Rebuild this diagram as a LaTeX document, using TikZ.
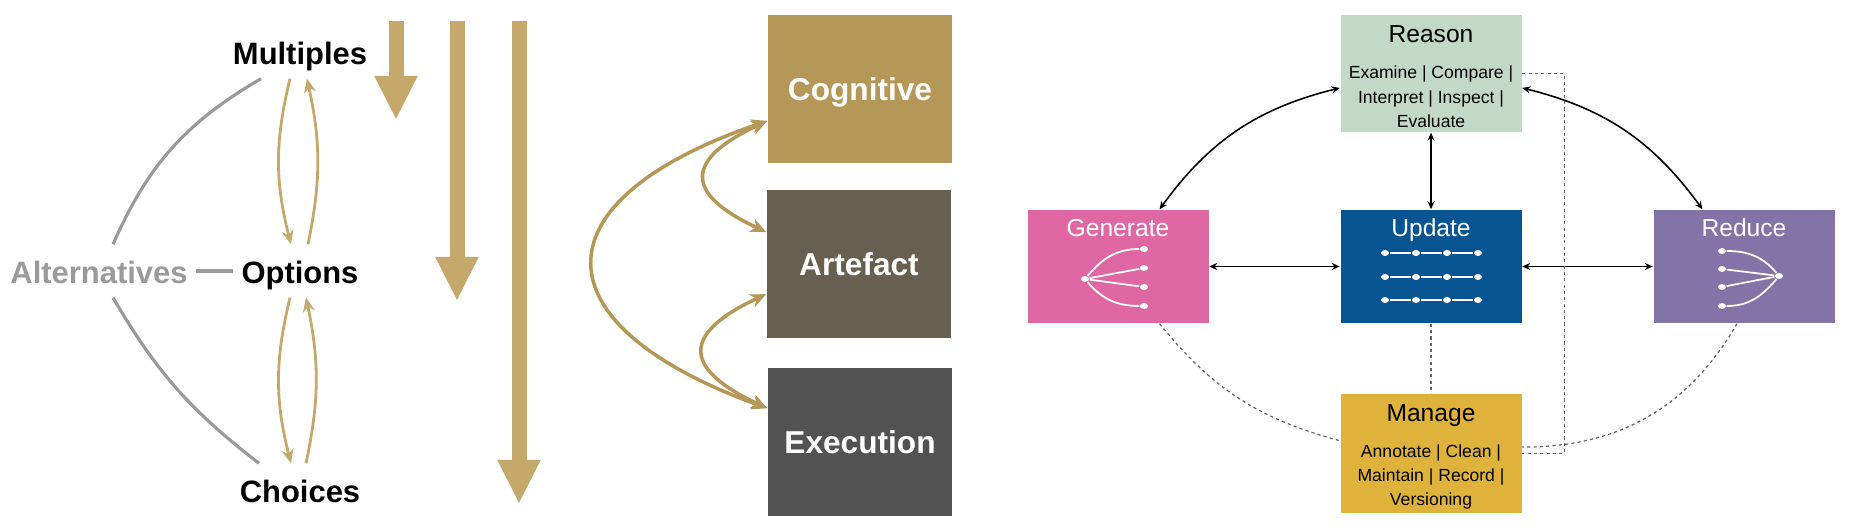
\documentclass[tikz,border=0pt]{standalone}
\usepackage{fontspec}
\setmainfont{Liberation Sans}
\usetikzlibrary{arrows.meta,positioning,shapes.geometric}
\definecolor{dftan}{RGB}{197,169,108}
\definecolor{dfgold}{RGB}{181,152,88}
\definecolor{dfolive}{RGB}{103,95,79}
\definecolor{dfdark}{RGB}{82,82,82}
\definecolor{dfgrey}{RGB}{154,154,154}
\definecolor{dfsage}{RGB}{194,217,200}
\definecolor{dfpink}{RGB}{223,104,164}
\definecolor{dfnavy}{RGB}{6,85,146}
\definecolor{dfpurple}{RGB}{131,115,167}
\definecolor{dfyellow}{RGB}{223,179,59}
\newcommand{\steptext}{\fontsize{5}{6.85}\selectfont}
\newcommand{\stephead}{\fontsize{7}{9}\selectfont\rule{0pt}{6.6pt}}
\tikzstyle{level} = [inner xsep=0.08cm, inner ysep=0pt, minimum height=0.52cm, text height=9pt, text depth=1.9pt, font=\fontsize{8.8}{10}\selectfont\bfseries]
\tikzstyle{facet} = [rectangle, minimum width=1.84cm, minimum height=1.48cm, inner sep=0pt, text height=8.5pt, text depth=1.9pt, text=white, font=\fontsize{9}{11}\selectfont\bfseries]
\tikzstyle{stage} = [rectangle, minimum width=1.81cm, inner sep=0pt, align=center, font=\steptext]
\tikzstyle{stagetitle} = [anchor=north, inner sep=0pt, text=white, font=\fontsize{7}{9}\selectfont]
\tikzstyle{altline} = [line width=0.9pt, color=dfgrey]
\tikzstyle{flow} = [line width=0.8pt, color=dftan, ->, >={Stealth[length=0.14cm,width=0.12cm]}]
\tikzstyle{bigflow} = [line width=0.15cm, color=dftan, -{Triangle[length=0.44cm,width=0.40cm]}]
\tikzstyle{loopflow} = [line width=1pt, color=dfgold, <->, >={Stealth[length=0.16cm,width=0.14cm]}]
\tikzstyle{arrow} = [line width=0.45pt, <->, >={Stealth[length=0.08cm,width=0.07cm]}]
\tikzstyle{dots} = [line width=0.35pt, color=black!60, dash pattern=on 0.9pt off 0.9pt]
\tikzstyle{idot} = [ellipse, fill=white, inner sep=0pt, minimum width=0.08cm, minimum height=0.06cm]
\tikzstyle{iline} = [line width=0.5pt, color=white]

\begin{document}
\begin{tikzpicture}
\useasboundingbox (0,0) rectangle (18.7,-5.32);

% levels
\node[level] (multiples) at (3.00,-0.52) {Multiples};
\node[level] (options) at (3.00,-2.71) {Options};
\node[level] (choices) at (3.00,-4.90) {Choices};
\node[level, text=dfgrey] (alternatives) at (0.99,-2.71) {Alternatives};

\draw[altline] (alternatives) -- (options);
\draw[altline] ([xshift=0.14cm]alternatives.north) to[bend left=18] ([xshift=-0.39cm]multiples.south);
\draw[altline] ([xshift=0.14cm]alternatives.south) to[bend right=11] ([xshift=-0.41cm]choices.north);

\draw[flow] ([xshift=-0.10cm]multiples.south) to[bend right=14] ([xshift=-0.09cm]options.north);
\draw[flow] ([xshift=0.08cm]options.north) to[bend right=12] ([xshift=0.07cm]multiples.south);
\draw[flow] ([xshift=-0.10cm]options.south) to[bend right=14] ([xshift=-0.09cm]choices.north);
\draw[flow] ([xshift=0.06cm]choices.north) to[bend right=12] ([xshift=0.06cm]options.south);

\coordinate (barone) at (3.96,-0.21);
\coordinate (baronetip) at (3.96,-1.20);
\coordinate (bartwo) at (4.57,-0.21);
\coordinate (bartwotip) at (4.57,-3.01);
\coordinate (barthree) at (5.19,-0.21);
\coordinate (barthreetip) at (5.19,-5.04);
\draw[bigflow] (barone) -- (baronetip);
\draw[bigflow] (bartwo) -- (bartwotip);
\draw[bigflow] (barthree) -- (barthreetip);

% facets
\node[facet, fill=dfgold] (cognitive) at (8.60,-0.89) {Cognitive};
\node[facet, fill=dfolive] (artefact) at (8.59,-2.64) {Artefact};
\node[facet, fill=dfdark] (execution) at (8.60,-4.42) {Execution};

\draw[loopflow] (cognitive.199) to[out=199,in=160,looseness=2.2] (execution.160);
\draw[loopflow] (cognitive.199) to[out=205,in=155,looseness=2.1] (artefact.161);
\draw[loopflow] (artefact.198) to[out=205,in=155,looseness=2.1] (execution.160);

% stages
\node[stage, fill=dfsage, minimum height=1.17cm] (reason) at (14.31,-0.735) {{\stephead Reason}\\[3.4pt]Examine | Compare |\\Interpret | Inspect |\\Evaluate};
\node[stage, fill=dfpink, minimum height=1.13cm] (generate) at (11.18,-2.665) {};
\node[stage, fill=dfnavy, minimum height=1.13cm] (update) at (14.31,-2.665) {};
\node[stage, fill=dfpurple, minimum height=1.13cm] (reduce) at (17.44,-2.665) {};
\node[stage, fill=dfyellow, minimum height=1.19cm] (manage) at (14.31,-4.535) {{\stephead Manage}\\[3.4pt]Annotate | Clean |\\Maintain | Record |\\Versioning};

\node[stagetitle] (generatetitle) at ([yshift=-0.09cm]generate.north) {Generate};
\node[stagetitle] (updatetitle) at ([yshift=-0.09cm]update.north) {Update};
\node[stagetitle] (reducetitle) at ([yshift=-0.09cm]reduce.north) {Reduce};

\draw[arrow] (reason.189) to[bend right=20] (generate.54);
\draw[arrow] (reason.351) to[bend left=20] (reduce.126);
\draw[arrow] (reason.south) -- (update.north);
\draw[arrow] (generate.east) -- (update.west);
\draw[arrow] (update.east) -- (reduce.west);

\draw[dots] (update.south) -- (manage.north);
\draw[dots] (reason.east) -- ++(0.42,0) |- (manage.east);
\draw[dots] (generate.-54) to[bend right=18] (manage.172);
\draw[dots] (reduce.-97) to[bend left=30] (manage.4);

% generate icon
\node[idot] (groot) at (10.85,-2.79) {};
\node[idot] (gleafa) at (11.44,-2.49) {};
\node[idot] (gleafb) at (11.44,-2.68) {};
\node[idot] (gleafc) at (11.44,-2.87) {};
\node[idot] (gleafd) at (11.44,-3.06) {};
\draw[iline] (groot) to[out=50,in=180] (gleafa);
\draw[iline] (groot) -- (gleafb);
\draw[iline] (groot) -- (gleafc);
\draw[iline] (groot) to[out=-50,in=180] (gleafd);

% update icon
\foreach \row/\y in {a/-2.53,b/-2.77,c/-3.00} {
  \node[idot] (u\row1) at (13.85,\y) {};
  \node[idot] (u\row2) at (14.16,\y) {};
  \node[idot] (u\row3) at (14.47,\y) {};
  \node[idot] (u\row4) at (14.78,\y) {};
  \draw[iline] (u\row1) -- (u\row2) -- (u\row3) -- (u\row4);
}

% reduce icon
\node[idot] (rroot) at (17.79,-2.76) {};
\node[idot] (rleafa) at (17.22,-2.51) {};
\node[idot] (rleafb) at (17.22,-2.69) {};
\node[idot] (rleafc) at (17.22,-2.87) {};
\node[idot] (rleafd) at (17.22,-3.06) {};
\draw[iline] (rleafa) to[out=0,in=130] (rroot);
\draw[iline] (rleafb) -- (rroot);
\draw[iline] (rleafc) -- (rroot);
\draw[iline] (rleafd) to[out=0,in=-130] (rroot);
\end{tikzpicture}
\end{document}
